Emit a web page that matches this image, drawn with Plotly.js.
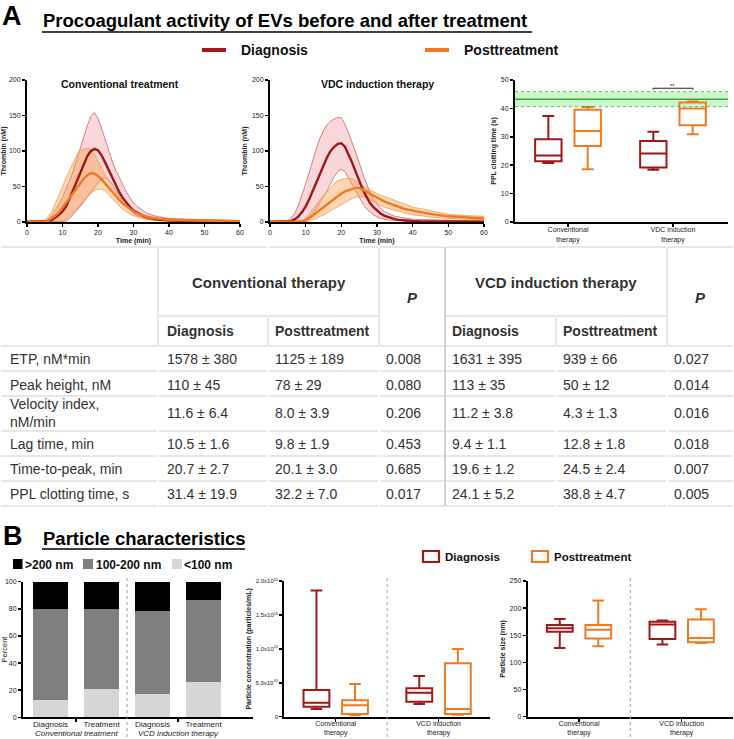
<!DOCTYPE html>
<html><head><meta charset="utf-8">
<script src="https://cdn.plot.ly/plotly-3.0.1.min.js"></script>
<style>html,body{margin:0;padding:0;background:#fff}#chart{width:734px;height:739px}</style>
</head><body><div id="chart"></div>
<script>
// ---------- DATA ----------
const timeMin = [0,1,2,3,4,5,6,7,8,9,10,11,12,13,14,15,16,17,18,19,20,21,22,23,24,25,26,27,28,29,30,31,32,33,34,35,36,37,38,39,40,42,45,50,55,60];

const convDiagMean  = [0.5,0.5,0.5,0.5,0.5,0.5, 1,3,6,10,15,22,33,45,58,71, 83,93,100,103,101,94,84,73,62,51, 42,34,27,21,16,13,10,8,6.5,5, 4,3.5,3,2.5,2, 1.8,1.5,1,1,0.5];
const convDiagUpper = [1,1,1,1,1,1.5, 4,9,17,25,35,46,58,72,87,104, 120,136,149,154,146,132,116,100,86,73, 62,51,42,34,27,22,18,15,12,10, 8.5,7.5,6.5,6,5, 4.5,4,3,2.5,2];
const convDiagLower = [0,0,0,0,0,0, 0,0,0,0,0,1,5,10,16,22, 28,35,42,49,55,60,62,60,53,44, 36,29,22,17,12,9,7,5,4,3, 2,2,1.5,1.5,1, 0.8,0.5,0.5,0.5,0.5];
const convPostMean  = [0.5,0.5,0.5,0.5,0.5,0.5, 2,5,9,14,20,27,34,41,48,55, 61,66,69,68,65,60,54,48,42,36, 31,26,22,18,15,12,10,8.5,7,6, 5,4.5,4,3.5,3, 2.8,2.5,2,1.5,1];
const convPostUpper = [1,1,1,1,1,3, 8,15,26,38,50,62,73,84,94,101, 103,104,102,95,86,76,66,57,49,42, 35,29,24,20,16,13,11,9.5,8,7, 6,5.5,5,4.5,4, 4,3.5,3,2.5,2];
const convPostLower = [0,0,0,0,0,0, 0,0,0,0,1,4,8,13,18,24, 30,36,41,44,46,46,44,39,33,27, 22,18,14,11,9,7,5.5,4.5,3.5,3, 2.5,2,2,1.5,1.5, 1,1,1,0.5,0.5];

const vdcDiagMean  = [0.5,0.5,0.5,0.5,0.5,0.5, 1.5,4,8,14,22,32,44,56,68,80, 91,100,106,110,111,106,96,84,71,58, 46,36,27,21,16,12,9,7,5,4, 3,2.5,2,1.5,1.5, 1.2,1,1,0.5,0.5];
const vdcDiagUpper = [1,1,1,1,1,2, 6,13,24,38,54,70,88,104,118,129, 137,142,145,147,147,138,126,113,99,84, 68,54,42,32,25,19,15,12,10,8, 7,6,5,4.5,4, 3.5,3,2,2,1.5];
const vdcDiagLower = [0,0,0,0,0,0, 0,0,0,1,3,7,12,19,27,35, 44,54,64,71,74,71,62,53,43,34, 26,19,14,10,7,5,4,3,2.5,2, 1.5,1,1,1,0.5, 0.3,0,0,0,0];
const vdcPostMean  = [0.5,0.5,0.5,0.5,0.5,0.5, 0.5,0.5,0.5,0.5,2,5,9,13,17,21, 25,29,33,37,40,43,45,47,48,48, 46,43,40,37,35,32,29,27,25,23, 21,19.5,18,17,16, 14,11.5,8,6.5,5];
const vdcPostUpper = [1,1,1,1,1,1, 1,1,1,2,5,11,18,24,31,37, 43,49,54,58,60,61,62,61,58,54, 50,47,45,42,40,38,36,34,32,30, 28,26,24,22.5,21, 19,16,11,9,8];
const vdcPostLower = [0,0,0,0,0,0, 0,0,0,0,0,1,3,5,7,10, 13,16,19,22,25,28,31,33,35,36, 36,34,31,28,25,23,21,19,17.5,16, 15,13.5,12,11,10, 9,7,5,4,3];

// PPL clotting time box plots
const pplCats = ["Conventional<br>therapy", "VDC induction<br>therapy"];
const pplDiagLow = [20.8, 18.4], pplDiagQ1 = [21.4, 19.2], pplDiagMed = [23.4, 24.1], pplDiagQ3 = [29.1, 28.5], pplDiagHigh = [37.3, 31.8];
const pplPostLow = [18.6, 30.9], pplPostQ1 = [26.8, 34.1], pplPostMed = [32.0, 40.0], pplPostQ3 = [39.5, 42.1], pplPostHigh = [40.5, 42.4];
const pplRefMean = 43.2, pplRefLow = 40.6, pplRefHigh = 45.9;

// Particle size distribution (percent)
const sizeBarLabels = ["Diagnosis", "Treatment", "Diagnosis", "Treatment"];
const sizeGroups = ["Conventional treatment", "VCD induction therapy"];
const pctUnder100 = [12.8, 20.6, 17.0, 25.8];
const pct100to200 = [66.8, 59.0, 61.4, 60.7];
const pctOver200  = [20.4, 20.4, 21.6, 13.5];

// Particle concentration (particles/mL)
const npCats = ["Conventional<br>therapy", "VCD induction<br>therapy"];
const concDiagLow = [1.13e10, 1.87e10], concDiagQ1 = [1.47e10, 2.21e10], concDiagMed = [2.06e10, 3.54e10], concDiagQ3 = [3.93e10, 4.18e10], concDiagHigh = [1.86e11, 6.0e10];
const concPostLow = [0.2e10, 0.3e10], concPostQ1 = [0.39e10, 0.39e10], concPostMed = [1.67e10, 1.13e10], concPostQ3 = [2.41e10, 7.86e10], concPostHigh = [4.82e10, 9.98e10];
const concTickVals = [0, 5e10, 1e11, 1.5e11, 2e11];
const concTickText = ["0", "5.0x10<sup>10</sup>", "1.0x10<sup>11</sup>", "1.5x10<sup>11</sup>", "2.0x10<sup>11</sup>"];

// Particle size (nm)
const psDiagLow = [126.5, 133], psDiagQ1 = [156.5, 143], psDiagMed = [163, 170], psDiagQ3 = [169, 175], psDiagHigh = [180, 177];
const psPostLow = [130, 136], psPostQ1 = [144, 137], psPostMed = [160, 145], psPostQ3 = [169, 179], psPostHigh = [214, 198];

// Table
const rowLabels = ["ETP, nM*min", "Peak height, nM", "Velocity index,<br>nM/min", "Lag time, min", "Time-to-peak, min", "PPL clotting time, s"];
const convDiagCol = ["1578 ± 380", "110 ± 45", "11.6 ± 6.4", "10.5 ± 1.6", "20.7 ± 2.7", "31.4 ± 19.9"];
const convPostCol = ["1125 ± 189", "78 ± 29", "8.0 ± 3.9", "9.8 ± 1.9", "20.1 ± 3.0", "32.2 ± 7.0"];
const convPCol    = ["0.008", "0.080", "0.206", "0.453", "0.685", "0.017"];
const vcdDiagCol  = ["1631 ± 395", "113 ± 35", "11.2 ± 3.8", "9.4 ± 1.1", "19.6 ± 1.2", "24.1 ± 5.2"];
const vcdPostCol  = ["939 ± 66", "50 ± 12", "4.3 ± 1.3", "12.8 ± 1.8", "24.5 ± 2.4", "38.8 ± 4.7"];
const vcdPCol     = ["0.027", "0.014", "0.016", "0.018", "0.007", "0.005"];

// ---------- STYLE ----------
const W = 734, H = 739;
const px = v => v / W, py = v => 1 - v / H;
const FONT = 'Liberation Sans, Arial, sans-serif';
const DIAG = '#a01818', POST = '#f07a22';
const DIAG_FILL = 'rgba(236,110,125,0.28)', POST_FILL = 'rgba(250,160,75,0.42)';
const DIAG_EDGE = 'rgba(190,60,75,0.9)', POST_EDGE = 'rgba(240,140,60,0.95)';

const traces = [];
function band(xa, ya, lower, upper, edge, fill) {
  traces.push({x: timeMin, y: lower, xaxis: xa, yaxis: ya, type: 'scatter', mode: 'lines', line: {color: edge, width: 0.7}, hoverinfo: 'skip'});
  traces.push({x: timeMin, y: upper, xaxis: xa, yaxis: ya, type: 'scatter', mode: 'lines', fill: 'tonexty', fillcolor: fill, line: {color: edge, width: 0.7}, hoverinfo: 'skip'});
}
function meanLine(xa, ya, y, color) {
  traces.push({x: timeMin, y: y, xaxis: xa, yaxis: ya, type: 'scatter', mode: 'lines', line: {color: color, width: 2.4}});
}
band('x', 'y', convDiagLower, convDiagUpper, DIAG_EDGE, DIAG_FILL);
band('x', 'y', convPostLower, convPostUpper, POST_EDGE, POST_FILL);
meanLine('x', 'y', convDiagMean, DIAG);
meanLine('x', 'y', convPostMean, POST);
band('x2', 'y2', vdcDiagLower, vdcDiagUpper, DIAG_EDGE, DIAG_FILL);
band('x2', 'y2', vdcPostLower, vdcPostUpper, POST_EDGE, POST_FILL);
meanLine('x2', 'y2', vdcDiagMean, DIAG);
meanLine('x2', 'y2', vdcPostMean, POST);

function box(xa, ya, cats, lo, q1, med, q3, hi, color, name) {
  traces.push({type: 'box', name: name, x: cats, xaxis: xa, yaxis: ya, offsetgroup: name,
    lowerfence: lo, q1: q1, median: med, q3: q3, upperfence: hi,
    line: {color: color, width: 2}, fillcolor: 'rgba(255,255,255,0)', whiskerwidth: 0.45, boxpoints: false});
}
box('x3', 'y3', pplCats, pplDiagLow, pplDiagQ1, pplDiagMed, pplDiagQ3, pplDiagHigh, DIAG, 'Diagnosis');
box('x3', 'y3', pplCats, pplPostLow, pplPostQ1, pplPostMed, pplPostQ3, pplPostHigh, POST, 'Posttreatment');
box('x5', 'y5', npCats, concDiagLow, concDiagQ1, concDiagMed, concDiagQ3, concDiagHigh, DIAG, 'Diagnosis');
box('x5', 'y5', npCats, concPostLow, concPostQ1, concPostMed, concPostQ3, concPostHigh, POST, 'Posttreatment');
box('x6', 'y6', npCats, psDiagLow, psDiagQ1, psDiagMed, psDiagQ3, psDiagHigh, DIAG, 'Diagnosis');
box('x6', 'y6', npCats, psPostLow, psPostQ1, psPostMed, psPostQ3, psPostHigh, POST, 'Posttreatment');

const barIdx = [0, 1, 2, 3];
traces.push({type: 'bar', x: barIdx, y: pctUnder100, xaxis: 'x4', yaxis: 'y4', marker: {color: '#d6d6d6'}, name: '<100 nm'});
traces.push({type: 'bar', x: barIdx, y: pct100to200, xaxis: 'x4', yaxis: 'y4', marker: {color: '#7f7f7f'}, name: '100-200 nm'});
traces.push({type: 'bar', x: barIdx, y: pctOver200, xaxis: 'x4', yaxis: 'y4', marker: {color: '#000000'}, name: '>200 nm'});

const tickF = {family: FONT, size: 7, color: '#222'};
const axBase = {showline: true, linecolor: '#000', linewidth: 2, ticks: 'outside', ticklen: 3, tickwidth: 1.5, tickcolor: '#000',
  showgrid: false, zeroline: false, tickfont: tickF, fixedrange: true};
const tTitle = t => ({text: '<b>' + t + '</b>', font: {family: FONT, size: 7, color: '#222'}, standoff: 3});

const layout = {
  width: W, height: H, margin: {l: 0, r: 0, t: 0, b: 0}, paper_bgcolor: '#fff', plot_bgcolor: 'rgba(0,0,0,0)',
  showlegend: false, font: {family: FONT, color: '#222'},
  boxmode: 'group', boxgap: 0.25, boxgroupgap: 0.33, barmode: 'stack', bargap: 0.32,
  xaxis:  Object.assign({}, axBase, {domain: [px(27), px(240)], range: [0, 60], dtick: 10, anchor: 'y', title: tTitle('Time (min)')}),
  yaxis:  Object.assign({}, axBase, {domain: [py(222), py(80)], range: [0, 200], dtick: 50, anchor: 'x', title: tTitle('Thrombin (nM)')}),
  xaxis2: Object.assign({}, axBase, {domain: [px(270), px(484)], range: [0, 60], dtick: 10, anchor: 'y2', title: tTitle('Time (min)')}),
  yaxis2: Object.assign({}, axBase, {domain: [py(222), py(80)], range: [0, 200], dtick: 50, anchor: 'x2', title: tTitle('Thrombin (nM)')}),
  xaxis3: Object.assign({}, axBase, {domain: [px(515), px(728)], type: 'category', range: [-0.505, 1.524], anchor: 'y3', ticklabelstandoff: -3}),
  yaxis3: Object.assign({}, axBase, {domain: [py(222), py(80)], range: [0, 50], dtick: 10, anchor: 'x3', title: tTitle('PPL clotting time (s)')}),
  xaxis4: Object.assign({}, axBase, {domain: [px(23), px(253)], range: [-0.54, 3.97], anchor: 'y4', tickvals: barIdx, ticktext: sizeBarLabels,
    ticks: '', ticklabelstandoff: -2, tickfont: {family: FONT, size: 8, color: '#222'},
    minor: {ticks: 'outside', tick0: 0.5, dtick: 2, ticklen: 3, tickwidth: 1.5, tickcolor: '#000', showgrid: false}}),
  yaxis4: Object.assign({}, axBase, {domain: [py(717.3), py(581.7)], range: [0, 100], dtick: 20, anchor: 'x4', title: {text: 'Percent', font: {family: FONT, size: 7.5, color: '#222'}, standoff: 4}}),
  xaxis5: Object.assign({}, axBase, {domain: [px(284.3), px(490)], type: 'category', range: [-0.5, 1.5], anchor: 'y5', ticklabelstandoff: -4}),
  yaxis5: Object.assign({}, axBase, {domain: [py(716.7), py(581)], range: [0, 2e11], tickvals: concTickVals, ticktext: concTickText, anchor: 'x5',
    tickfont: {family: FONT, size: 6, color: '#222'}, title: tTitle('Particle concentration (particles/mL)')}),
  xaxis6: Object.assign({}, axBase, {domain: [px(527.7), px(733)], type: 'category', range: [-0.5, 1.5], anchor: 'y6', ticklabelstandoff: -4}),
  yaxis6: Object.assign({}, axBase, {domain: [py(716.7), py(581)], range: [0, 250], dtick: 50, anchor: 'x6', title: tTitle('Particle size (nm)')}),
  shapes: [], annotations: []
};
const S = layout.shapes, A = layout.annotations;
function ptext(text, x, y, size, opts) {
  A.push(Object.assign({text: text, x: px(x), y: py(y), xref: 'paper', yref: 'paper', showarrow: false, xanchor: 'left', yanchor: 'middle',
    font: {family: FONT, size: size, color: '#222'}}, opts || {}));
}
function pline(x0, y0, x1, y1, color, width, dash) {
  S.push({type: 'line', xref: 'paper', yref: 'paper', x0: px(x0), y0: py(y0), x1: px(x1), y1: py(y1), line: {color: color, width: width, dash: dash || 'solid'}});
}

// Section A headings
ptext('<b>A</b>', 0, 16, 27, {font: {family: FONT, size: 27, color: '#000'}});
ptext('<b>Procoagulant activity of EVs before and after treatment</b>', 41, 20, 18.5, {font: {family: 'Liberation Sans Narrow, Arial Narrow, ' + FONT, size: 18.5, color: '#000'}});
pline(42, 32, 532, 32, '#000', 1.3);
pline(202, 50, 226, 50, DIAG, 4);
ptext('<b>Diagnosis</b>', 239, 50, 14, {font: {family: FONT, size: 14, color: '#111'}});
pline(425, 50, 449, 50, POST, 4);
ptext('<b>Posttreatment</b>', 462, 50, 14, {font: {family: FONT, size: 14, color: '#111'}});
ptext('<b>Conventional treatment</b>', 120, 84, 10.5, {xanchor: 'center', font: {family: FONT, size: 10.5, color: '#111'}});
ptext('<b>VDC induction therapy</b>', 377, 84, 10.5, {xanchor: 'center', font: {family: FONT, size: 10.5, color: '#111'}});

// PPL reference band and significance
S.push({type: 'rect', xref: 'x3 domain', yref: 'y3', x0: 0, x1: 1, y0: pplRefLow, y1: pplRefHigh, fillcolor: 'rgba(140,235,140,0.45)', line: {width: 0}, layer: 'below'});
S.push({type: 'line', xref: 'x3 domain', yref: 'y3', x0: 0, x1: 1, y0: pplRefMean, y1: pplRefMean, line: {color: '#3aa83a', width: 1.5}});
S.push({type: 'line', xref: 'x3 domain', yref: 'y3', x0: 0, x1: 1, y0: pplRefLow, y1: pplRefLow, line: {color: '#3aa83a', width: 0.8, dash: 'dot'}});
S.push({type: 'line', xref: 'x3 domain', yref: 'y3', x0: 0, x1: 1, y0: pplRefHigh, y1: pplRefHigh, line: {color: '#3aa83a', width: 0.8, dash: 'dot'}});
S.push({type: 'path', xref: 'x3', yref: 'y3', path: 'M 0.81 46.6 L 0.81 47.1 L 1.19 47.1 L 1.19 46.6', line: {color: '#222', width: 1}});
A.push({text: '**', xref: 'x3', yref: 'y3', x: 1, y: 47.1, yanchor: 'bottom', showarrow: false, font: {family: FONT, size: 6, color: '#222'}, yshift: -3});

// Table
const colEdges = [0, 158, 268, 379, 445, 556, 667, 734];
const GRID = '#d0d0d0';
function hseg(y, cols) { cols.forEach(c => pline(colEdges[c] + 1, y, colEdges[c + 1] - 1, y, GRID, 1)); }
hseg(247, [0, 1, 2, 3, 4, 5, 6]);
hseg(316, [1, 2, 4, 5]);
[346, 371, 396, 431, 456, 481, 506].forEach(y => hseg(y, [0, 1, 2, 3, 4, 5, 6]));
[158, 379, 667].forEach(x => pline(x, 247, x, 346, GRID, 1));
[268, 556].forEach(x => pline(x, 316, x, 346, GRID, 1));
pline(445, 247, 445, 506, GRID, 2);
const TF = {family: FONT, size: 14, color: '#333'};
ptext('<b>Conventional therapy</b>', 268.5, 283, 15, {xanchor: 'center', font: {family: FONT, size: 15, color: '#333'}});
ptext('<b>VCD induction therapy</b>', 556, 283, 15, {xanchor: 'center', font: {family: FONT, size: 15, color: '#333'}});
ptext('<b><i>P</i></b>', 412, 297, 15, {xanchor: 'center', font: {family: FONT, size: 15, color: '#333'}});
ptext('<b><i>P</i></b>', 700, 297, 15, {xanchor: 'center', font: {family: FONT, size: 15, color: '#333'}});
[[165, 'Diagnosis'], [273, 'Posttreatment'], [450, 'Diagnosis'], [561, 'Posttreatment']].forEach(d =>
  ptext('<b>' + d[1] + '</b>', d[0], 331, 14, {font: TF}));
const rowY = [359, 385, 413, 444, 469, 494];
const cols = [[8, rowLabels], [165, convDiagCol], [273, convPostCol], [384, convPCol], [450, vcdDiagCol], [561, vcdPostCol], [672, vcdPCol]];
cols.forEach(c => c[1].forEach((t, i) => ptext(t, c[0], rowY[i], 14, {font: TF, align: 'left'})));

// Section B headings
ptext('<b>B</b>', 1, 536, 27, {font: {family: FONT, size: 27, color: '#000'}});
ptext('<b>Particle characteristics</b>', 41, 538, 18.5, {font: {family: FONT, size: 18.5, color: '#000'}});
pline(42, 549, 245, 549, '#000', 1.3);
// stacked legend
S.push({type: 'rect', xref: 'paper', yref: 'paper', x0: px(13), x1: px(22.5), y0: py(569), y1: py(559), fillcolor: '#000', line: {width: 0}});
ptext('<b>>200 nm</b>', 23, 564.5, 12, {font: {family: FONT, size: 12, color: '#111'}});
S.push({type: 'rect', xref: 'paper', yref: 'paper', x0: px(83), x1: px(93), y0: py(569), y1: py(559), fillcolor: '#7f7f7f', line: {width: 0}});
ptext('<b>100-200 nm</b>', 94, 564.5, 12, {font: {family: FONT, size: 12, color: '#111'}});
S.push({type: 'rect', xref: 'paper', yref: 'paper', x0: px(172), x1: px(182), y0: py(569), y1: py(559), fillcolor: '#d6d6d6', line: {width: 0}});
ptext('<b><100 nm</b>', 182, 564.5, 12, {font: {family: FONT, size: 12, color: '#111'}});
// group labels and separators
sizeGroups.forEach((g, i) => A.push({text: '<i>' + g + '</i>', xref: 'x4', yref: 'paper', x: 0.5 + 2 * i, y: py(733), xanchor: 'center', yanchor: 'middle', showarrow: false,
  font: {family: FONT, size: 8, color: '#222'}}));
S.push({type: 'line', xref: 'x4', yref: 'paper', x0: 1.5, x1: 1.5, y0: py(578), y1: 0, line: {color: '#999', width: 1, dash: 'dot'}});
S.push({type: 'line', xref: 'x5', yref: 'paper', x0: 0.5, x1: 0.5, y0: py(578), y1: 0, line: {color: '#aaa', width: 1, dash: 'dot'}});
S.push({type: 'line', xref: 'x6', yref: 'paper', x0: 0.5, x1: 0.5, y0: py(578), y1: 0, line: {color: '#aaa', width: 1, dash: 'dot'}});
// box legend
S.push({type: 'rect', xref: 'paper', yref: 'paper', x0: px(423), x1: px(439), y0: py(562), y1: py(551), line: {color: DIAG, width: 2.2}});
ptext('<b>Diagnosis</b>', 443, 556.5, 11.5, {font: {family: FONT, size: 11.5, color: '#111'}});
S.push({type: 'rect', xref: 'paper', yref: 'paper', x0: px(532), x1: px(548), y0: py(562), y1: py(551), line: {color: POST, width: 2.2}});
ptext('<b>Posttreatment</b>', 552, 556.5, 11.5, {font: {family: FONT, size: 11.5, color: '#111'}});

Plotly.newPlot('chart', traces, layout, {displayModeBar: false, staticPlot: true});
</script>
</body></html>
